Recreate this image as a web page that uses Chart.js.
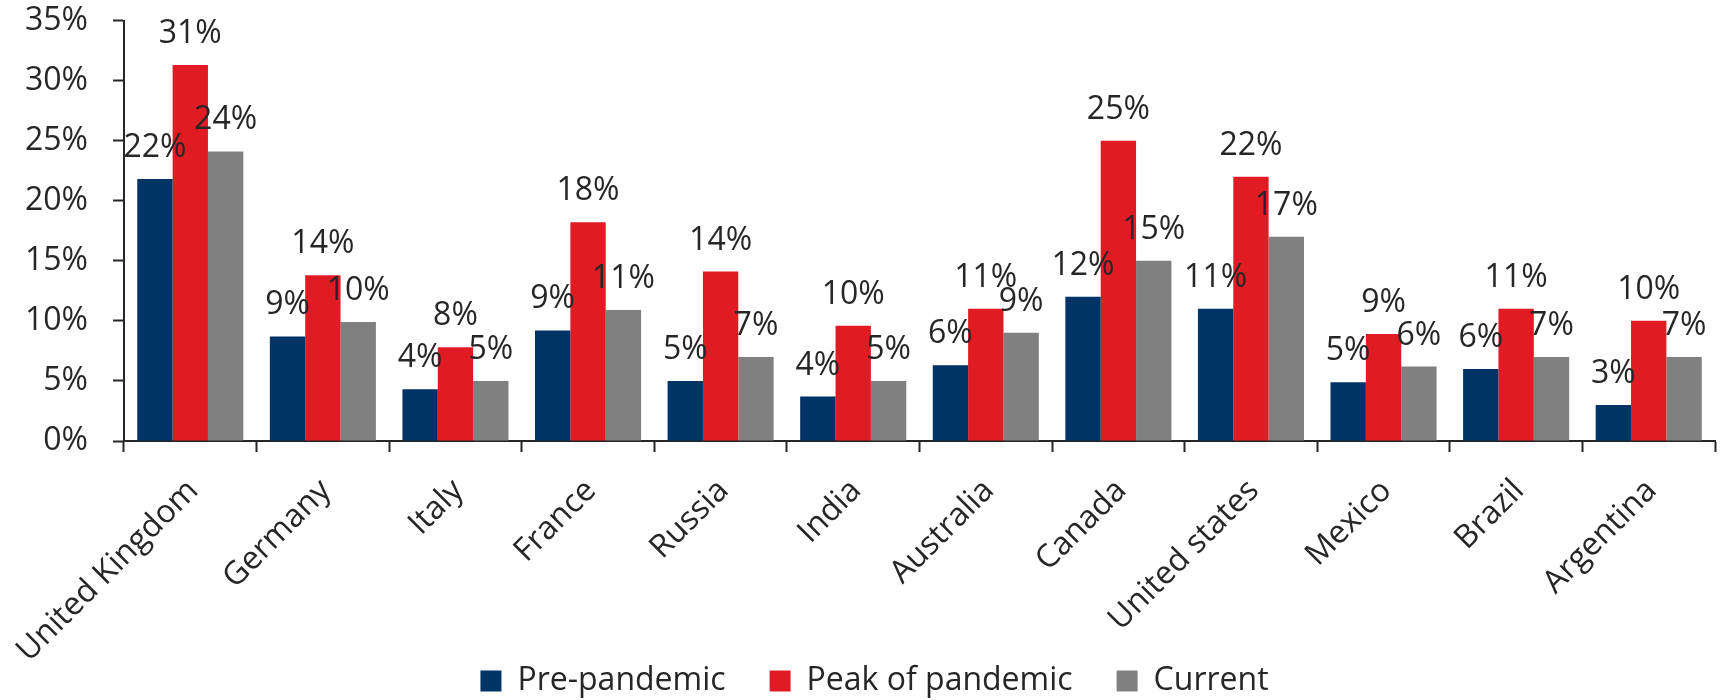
<!DOCTYPE html>
<html>
<head>
<meta charset="utf-8">
<title>Share by country</title>
<script src="https://cdn.jsdelivr.net/npm/chart.js@4.4.1/dist/chart.umd.min.js"></script>
<style>
  html, body { margin: 0; padding: 0; background: #ffffff; }
  #wrap { width: 1721px; height: 700px; }
</style>
</head>
<body>
<div id="wrap"><canvas id="chart" width="1721" height="700"></canvas></div>
<script>
// Categories and series (percent)
const countries = ['United Kingdom', 'Germany', 'Italy', 'France', 'Russia', 'India',
  'Australia', 'Canada', 'United states', 'Mexico', 'Brazil', 'Argentina'];
const prePandemic = [21.8, 8.7, 4.3, 9.2, 5.0, 3.7, 6.3, 12.0, 11.0, 4.9, 6.0, 3.0];
const peakOfPandemic = [31.3, 13.8, 7.8, 18.2, 14.1, 9.6, 11.0, 25.0, 22.0, 8.9, 11.0, 10.0];
const current = [24.1, 9.9, 5.0, 10.9, 7.0, 5.0, 9.0, 15.0, 17.0, 6.2, 7.0, 7.0];
const seriesNames = ['Pre-pandemic', 'Peak of pandemic', 'Current'];
const yTickValues = [0, 5, 10, 15, 20, 25, 30, 35];

const FONT = '"Open Sans", "DejaVu Sans", sans-serif';
const TEXT = '#262626';
const AXIS = '#262626';
const LEGEND_PAD = 44;

// Percentage labels above each bar
const valueLabels = {
  id: 'valueLabels',
  afterDatasetsDraw(chart) {
    const ctx = chart.ctx;
    ctx.save();
    ctx.font = '32px ' + FONT;
    ctx.fillStyle = TEXT;
    ctx.textAlign = 'center';
    ctx.textBaseline = 'alphabetic';
    chart.data.datasets.forEach((ds, i) => {
      chart.getDatasetMeta(i).data.forEach((bar, j) => {
        ctx.fillText(Math.round(ds.data[j]) + '%', bar.x, bar.y - 22);
      });
    });
    ctx.restore();
  }
};

// The rotated category labels need a tall axis box; the legend row is
// then lifted so it sits just under the longest label, a bit right of centre.
const legendPlacement = {
  id: 'legendPlacement',
  afterLayout(chart) {
    const lg = chart.legend;
    if (!lg) return;
    const h = lg.bottom - lg.top;
    lg.top = 681 - LEGEND_PAD - 16;
    lg.bottom = lg.top + h;
    lg.left += 17;
    lg.right += 17;
  }
};

new Chart(document.getElementById('chart'), {
  type: 'bar',
  data: {
    labels: countries,
    datasets: [
      { label: seriesNames[0], data: prePandemic, backgroundColor: '#003366' },
      { label: seriesNames[1], data: peakOfPandemic, backgroundColor: '#e01b24' },
      { label: seriesNames[2], data: current, backgroundColor: '#808080' }
    ]
  },
  options: {
    responsive: false,
    animation: false,
    devicePixelRatio: 1,
    datasets: { bar: { categoryPercentage: 0.8, barPercentage: 1.0, borderWidth: 0 } },
    layout: { padding: { left: 0, right: 6, top: 0, bottom: -72 } },
    plugins: {
      legend: {
        position: 'bottom',
        labels: {
          boxWidth: 21,
          boxHeight: 21,
          padding: LEGEND_PAD,
          color: TEXT,
          font: { family: FONT, size: 32 }
        }
      },
      tooltip: { enabled: false }
    },
    scales: {
      x: {
        grid: {
          offset: true,
          drawOnChartArea: false,
          drawTicks: true,
          tickLength: 11,
          tickWidth: 2,
          tickColor: AXIS
        },
        border: { display: true, color: AXIS, width: 2 },
        ticks: {
          minRotation: 45,
          maxRotation: 45,
          autoSkip: false,
          labelOffset: 3,
          padding: 20,
          color: TEXT,
          font: { family: FONT, size: 32 }
        },
        afterFit(scale) {
          scale.height = 245;
          scale.paddingLeft = 0;
          scale.paddingRight = 0;
        }
      },
      y: {
        min: 0,
        max: 35,
        afterBuildTicks(scale) { scale.ticks = yTickValues.map(v => ({ value: v })); },
        grid: {
          drawOnChartArea: false,
          drawTicks: true,
          tickLength: 11,
          tickWidth: 2,
          tickColor: AXIS
        },
        border: { display: true, color: AXIS, width: 2 },
        ticks: {
          padding: 25,
          color: TEXT,
          font: { family: FONT, size: 32 },
          callback: v => v + '%'
        },
        afterFit(scale) {
          scale.width = 124;
          scale.paddingTop = 20.5;
          scale.paddingBottom = 0;
        }
      }
    }
  },
  plugins: [valueLabels, legendPlacement]
});
</script>
</body>
</html>
